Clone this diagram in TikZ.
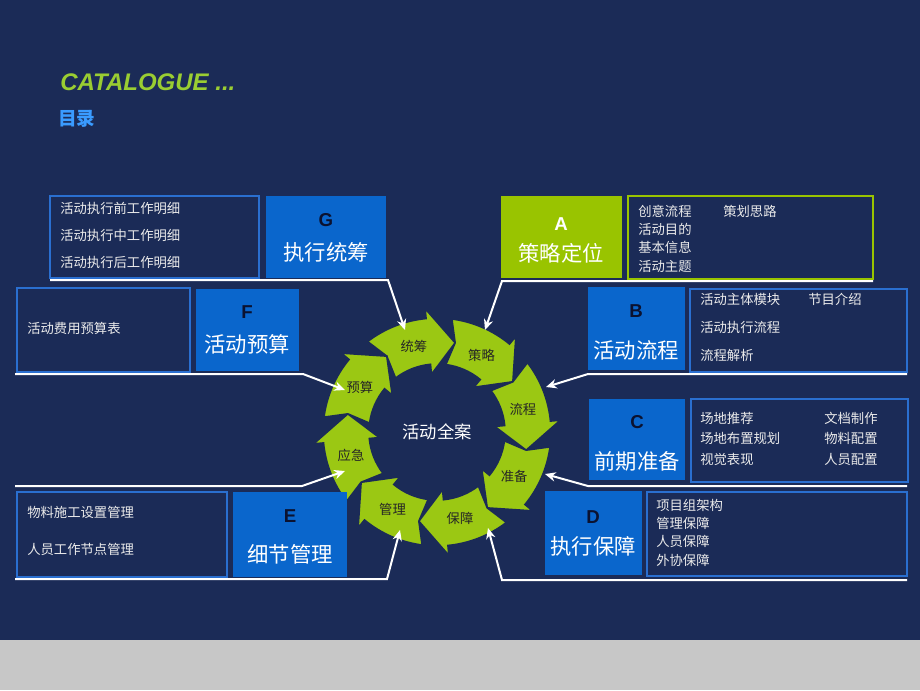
\documentclass[tikz,border=0pt]{standalone}
\usepackage{fontspec}
\setmainfont{Noto Sans CJK SC}
\newfontfamily\lat{Liberation Sans}
\usetikzlibrary{arrows.meta}
\definecolor{bg}{HTML}{1B2B57}
\definecolor{bluebox}{HTML}{0A66CC}
\definecolor{greenbox}{HTML}{99C400}
\definecolor{ringg}{HTML}{9BC813}
\definecolor{outl}{HTML}{2A6FD0}
\definecolor{ltr}{HTML}{0B1230}
\definecolor{titleg}{HTML}{9ACD32}
\definecolor{titleb}{HTML}{3A9BFF}
\tikzset{
  solid box/.style={fill=bluebox,draw=none},
  out box/.style={draw=outl,line width=0.8pt},
  ltrtxt/.style={font=\lat\bfseries\fontsize{14}{16}\selectfont,text=ltr},
  nametxt/.style={font=\fontsize{16}{18}\selectfont,text=white},
  det/.style={font=\fontsize{10}{12}\selectfont,text=white!92!black,anchor=west,inner sep=0pt},
  ringtxt/.style={font=\fontsize{10}{12}\selectfont,text=black!85},
  conn/.style={draw=white,line width=1.5pt,-{Stealth[length=8pt,width=7pt]}},
  seg/.style={fill=ringg,draw=bg,line width=1.2pt,line join=miter}
}
\begin{document}
\begin{tikzpicture}[x=0.75pt,y=-0.75pt]
\useasboundingbox (0,0) rectangle (920,690);
\fill[bg] (0,0) rectangle (920,640);
\fill[black!22] (0,640) rectangle (920,690);
\node[anchor=west,inner sep=0pt,text=titleg,font=\lat\bfseries\itshape\fontsize{18}{20}\selectfont] (title) at (60,82) {CATALOGUE ...};
\node[anchor=west,inner sep=0pt,text=titleb,font=\bfseries\fontsize{14}{16}\selectfont] (mulu) at (58,119) {目录};

% ring
\begin{scope}[shift={(437,432)}]
\foreach \m/\t [count=\k] in {-105/统筹,-60/策略,-15/流程,30/准备,75/保障,120/管理,165/应急,210/预算}{
  \pgfmathsetmacro\a{\m-22.5}
  \pgfmathsetmacro\b{\m+22.5}
  \pgfmathsetmacro\h{\b-13}
  \pgfmathsetmacro\tip{\b+4}
  \pgfmathsetmacro\nt{\a+4}
  \path[seg] (\a:114) arc[start angle=\a,end angle=\h,radius=114]
     -- (\h:124) -- (\tip:91) -- (\h:58) -- (\h:68)
     arc[start angle=\h,end angle=\a,radius=68] -- (\nt:91) -- cycle;
  \node[ringtxt] (r\k) at (\m:89) {\t};
}
\node[font=\fontsize{13}{15}\selectfont,text=white] (center) at (0,0) {活动全案};
\end{scope}

% G
\draw[out box] (50,196) rectangle (259,278);
\fill[solid box] (266,196) rectangle (386,278);
\node[ltrtxt] (gl) at (326,220) {G};
\node[nametxt] (gn) at (326,252) {执行统筹};
\node[det] (g1) at (60,208) {活动执行前工作明细};
\node[det] (g2) at (60,235) {活动执行中工作明细};
\node[det] (g3) at (60,262) {活动执行后工作明细};
% A
\fill[greenbox] (501,196) rectangle (622,278);
\draw[draw=greenbox,line width=1pt] (628,196) rectangle (873,279);
\node[ltrtxt,text=white] (al) at (561,224) {A};
\node[nametxt] (an) at (561,253) {策略定位};
\node[det] (a1) at (638,211) {创意流程};
\node[det] (a1b) at (723,211) {策划思路};
\node[det] (a2) at (638,229) {活动目的};
\node[det] (a3) at (638,247) {基本信息};
\node[det] (a4) at (638,266) {活动主题};
% F
\draw[out box] (17,288) rectangle (190,372);
\fill[solid box] (196,289) rectangle (299,371);
\node[ltrtxt] (fl) at (247,312) {F};
\node[nametxt] (fn) at (247,344) {活动预算};
\node[det] (f1) at (27,328) {活动费用预算表};
% B
\fill[solid box] (588,287) rectangle (685,370);
\draw[out box] (690,289) rectangle (907,372);
\node[ltrtxt] (bl) at (636,311) {B};
\node[nametxt] (bn) at (636,350) {活动流程};
\node[det] (b1) at (700,299) {活动主体模块};
\node[det] (b1b) at (808,299) {节目介绍};
\node[det] (b2) at (700,327) {活动执行流程};
\node[det] (b3) at (700,355) {流程解析};
% C
\fill[solid box] (589,399) rectangle (685,480);
\draw[out box] (691,399) rectangle (908,482);
\node[ltrtxt] (cl) at (637,422) {C};
\node[nametxt] (cn) at (637,461) {前期准备};
\node[det] (c1) at (700,418) {场地推荐};
\node[det] (c1b) at (824,418) {文档制作};
\node[det] (c2) at (700,438) {场地布置规划};
\node[det] (c2b) at (824,438) {物料配置};
\node[det] (c3) at (700,459) {视觉表现};
\node[det] (c3b) at (824,459) {人员配置};
% E
\draw[out box] (17,492) rectangle (227,577);
\fill[solid box] (233,492) rectangle (347,577);
\node[ltrtxt] (el) at (290,516) {E};
\node[nametxt] (en) at (290,554) {细节管理};
\node[det] (e1) at (27,512) {物料施工设置管理};
\node[det] (e2) at (27,549) {人员工作节点管理};
% D
\fill[solid box] (545,491) rectangle (642,575);
\draw[out box] (647,492) rectangle (907,576);
\node[ltrtxt] (dl) at (593,517) {D};
\node[nametxt] (dn) at (593,546) {执行保障};
\node[det] (d1) at (656,505) {项目组架构};
\node[det] (d2) at (656,523) {管理保障};
\node[det] (d3) at (656,541) {人员保障};
\node[det] (d4) at (656,560) {外协保障};

% connectors
\coordinate (gs) at (50,280); \coordinate (gc) at (388,280); \coordinate (gt) at (405,330);
\coordinate (as) at (873,281); \coordinate (ac) at (502,281); \coordinate (atp) at (485,330);
\coordinate (fs) at (15,374); \coordinate (fc) at (303,374); \coordinate (ft) at (345,390);
\coordinate (bs) at (907,374); \coordinate (bc) at (588,374); \coordinate (bt) at (546,387);
\coordinate (es) at (15,486); \coordinate (ec) at (302,486); \coordinate (et) at (345,471);
\coordinate (cs) at (907,486); \coordinate (cc) at (588,486); \coordinate (ct) at (545,474);
\coordinate (xs) at (15,579); \coordinate (xc) at (387,579); \coordinate (xt) at (400,530);
\coordinate (ds) at (907,580); \coordinate (dc) at (502,580); \coordinate (dt) at (488,528);
\path[conn] (gs) -- (gc) -- (gt);
\path[conn] (as) -- (ac) -- (atp);
\path[conn] (fs) -- (fc) -- (ft);
\path[conn] (bs) -- (bc) -- (bt);
\path[conn] (es) -- (ec) -- (et);
\path[conn] (cs) -- (cc) -- (ct);
\path[conn] (xs) -- (xc) -- (xt);
\path[conn] (ds) -- (dc) -- (dt);
\end{tikzpicture}
\end{document}
